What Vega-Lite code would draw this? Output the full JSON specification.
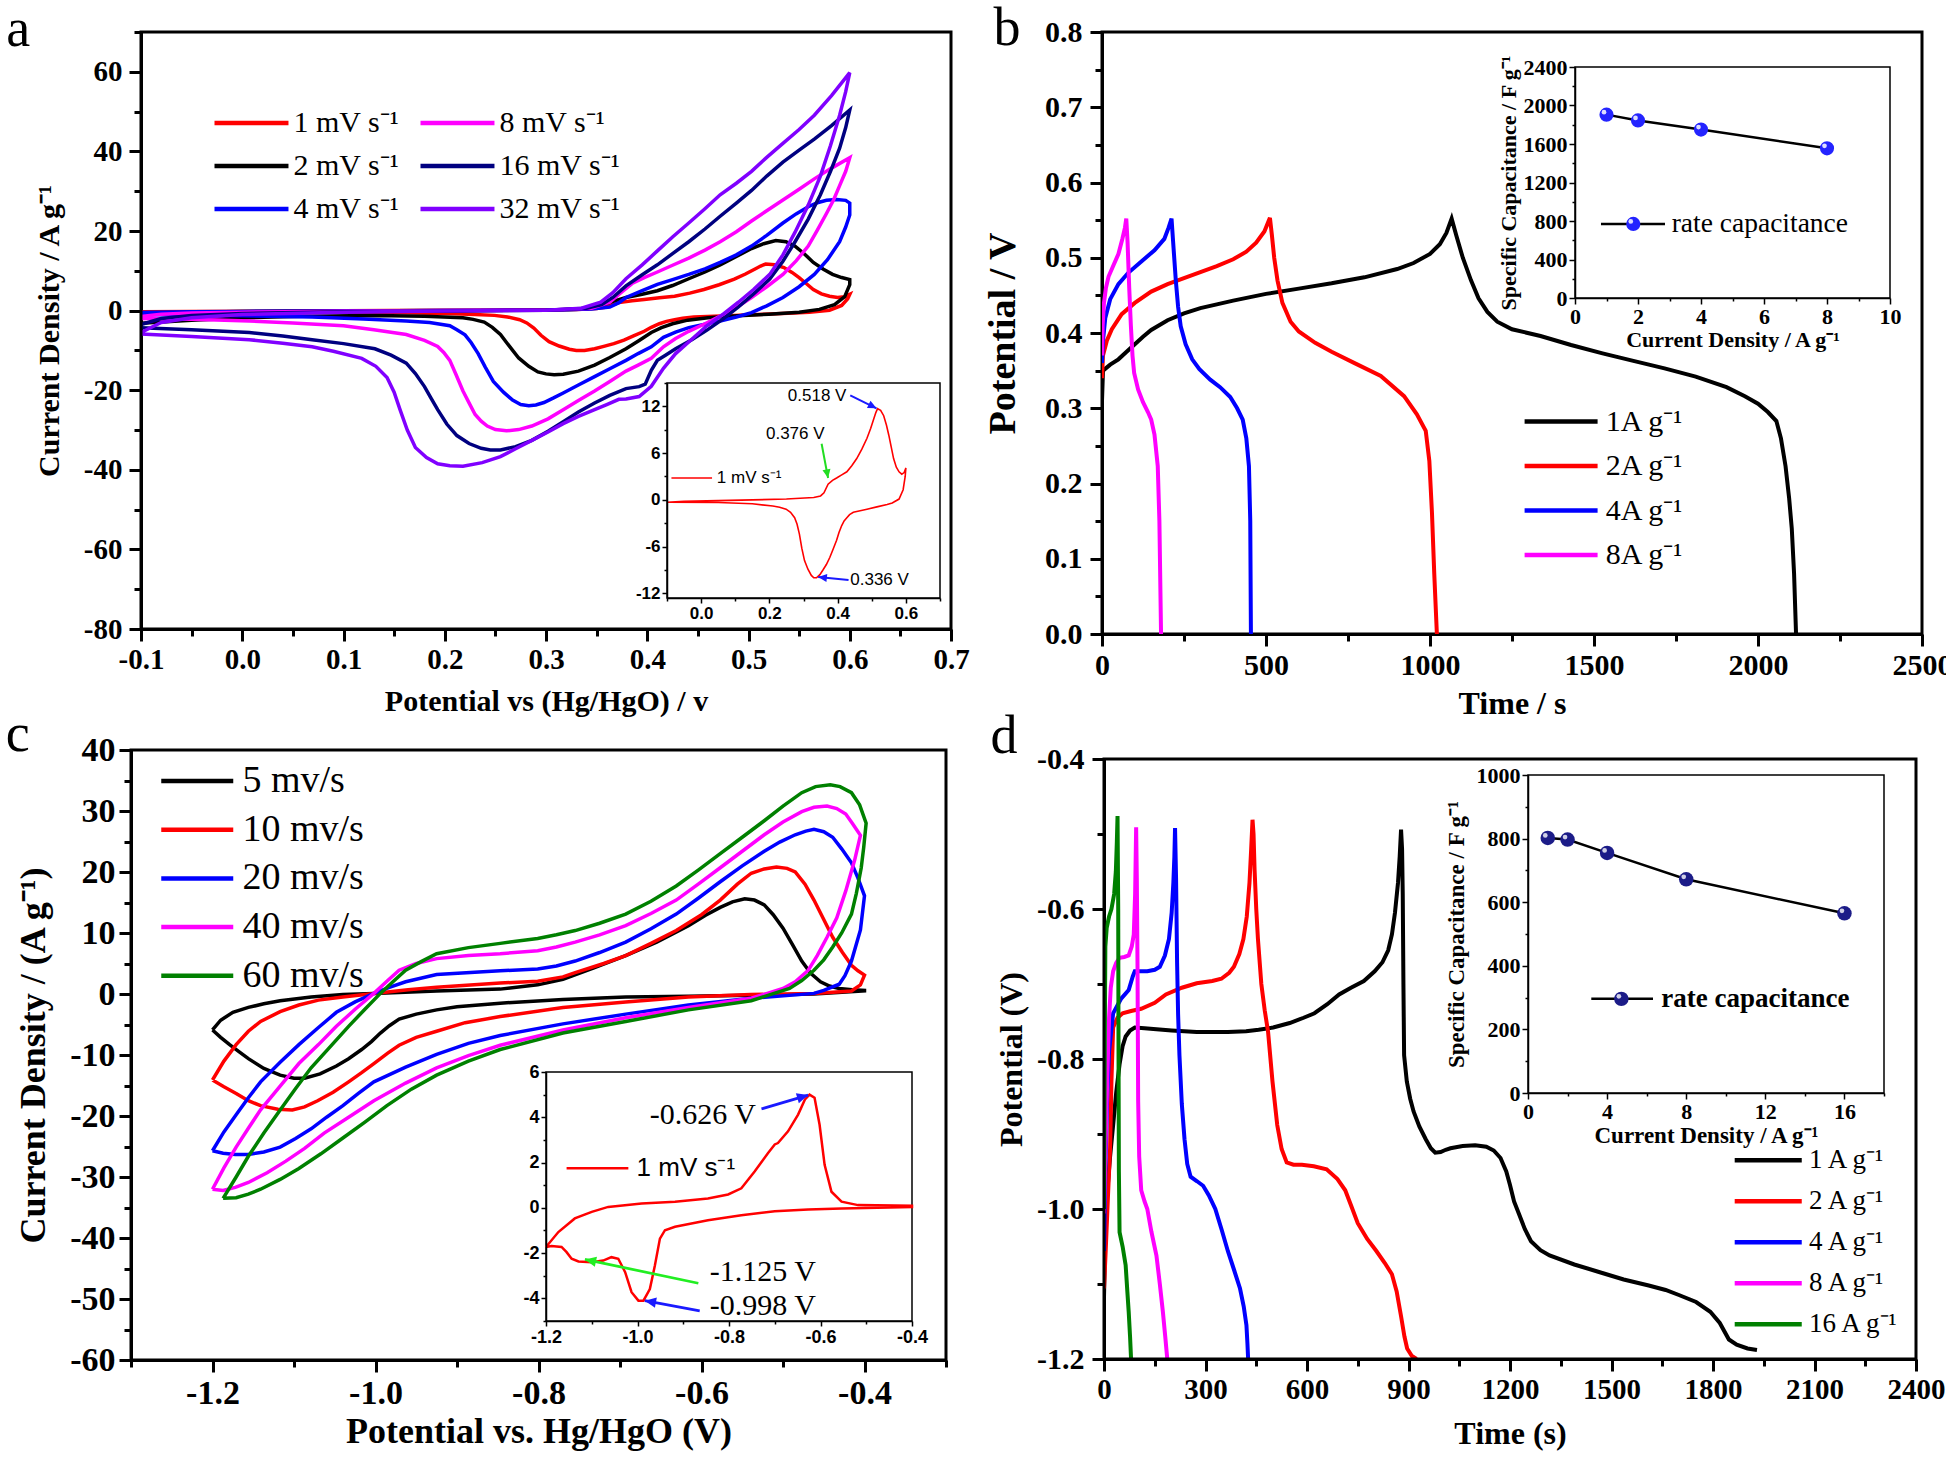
{
"$schema":"https://vega.github.io/schema/vega-lite/v6.json",
"background":"white",
"padding":{"left":4,"top":0,"right":0,"bottom":0},
"config":{
 "view":{"stroke":"black","strokeWidth":3},
 "axis":{"grid":false,"labelOverlap":false,"labelFlush":false,"labelBound":false,"domainColor":"black","tickColor":"black","labelColor":"black","titleColor":"black"},
 "title":{"anchor":"start","frame":"bounds","font":"Liberation Serif","fontSize":54,"fontWeight":"normal","baseline":"alphabetic","color":"black"},
 "legend":{"orient":"none","symbolType":"M0,0L8,0","padding":0,"labelColor":"black","labelFont":"Liberation Serif","labelLimit":400,"symbolOpacity":1}
},
"datasets":{
"A":[
{"s":"1","x":-0.1,"y":-0.3},{"s":"1","x":-0.05,"y":-0.2},{"s":"1","x":0.05,"y":-0.1},{"s":"1","x":0.15,"y":0},{"s":"1","x":0.25,"y":0.1},{"s":"1","x":0.33,"y":0.3},{"s":"1","x":0.35,"y":0.5},{"s":"1","x":0.36,"y":0.9},{"s":"1","x":0.372,"y":2.0},{"s":"1","x":0.385,"y":2.5},{"s":"1","x":0.397,"y":2.8},{"s":"1","x":0.412,"y":3.2},{"s":"1","x":0.427,"y":3.6},{"s":"1","x":0.442,"y":4.4},{"s":"1","x":0.456,"y":5.3},{"s":"1","x":0.471,"y":6.5},{"s":"1","x":0.486,"y":7.9},{"s":"1","x":0.497,"y":9.2},{"s":"1","x":0.506,"y":10.4},{"s":"1","x":0.512,"y":11.2},{"s":"1","x":0.517,"y":11.7},{"s":"1","x":0.526,"y":11.5},{"s":"1","x":0.535,"y":10.8},{"s":"1","x":0.543,"y":9.6},{"s":"1","x":0.55,"y":8.3},{"s":"1","x":0.557,"y":6.8},{"s":"1","x":0.564,"y":5.3},{"s":"1","x":0.572,"y":4.2},{"s":"1","x":0.58,"y":3.6},{"s":"1","x":0.588,"y":3.3},{"s":"1","x":0.595,"y":3.5},{"s":"1","x":0.6,"y":4.1},{"s":"1","x":0.598,"y":3.0},{"s":"1","x":0.592,"y":1.3},{"s":"1","x":0.58,"y":0.1},{"s":"1","x":0.56,"y":-0.4},{"s":"1","x":0.545,"y":-0.6},{"s":"1","x":0.515,"y":-0.9},{"s":"1","x":0.486,"y":-1.2},{"s":"1","x":0.466,"y":-1.4},{"s":"1","x":0.446,"y":-1.6},{"s":"1","x":0.435,"y":-1.9},{"s":"1","x":0.427,"y":-2.3},{"s":"1","x":0.419,"y":-2.7},{"s":"1","x":0.412,"y":-3.3},{"s":"1","x":0.404,"y":-4.2},{"s":"1","x":0.397,"y":-5.2},{"s":"1","x":0.387,"y":-6.3},{"s":"1","x":0.377,"y":-7.4},{"s":"1","x":0.367,"y":-8.3},{"s":"1","x":0.357,"y":-9.0},{"s":"1","x":0.348,"y":-9.6},{"s":"1","x":0.338,"y":-10.0},{"s":"1","x":0.33,"y":-10.0},{"s":"1","x":0.323,"y":-9.7},{"s":"1","x":0.313,"y":-8.9},{"s":"1","x":0.303,"y":-7.8},{"s":"1","x":0.295,"y":-6.2},{"s":"1","x":0.288,"y":-4.4},{"s":"1","x":0.281,"y":-3.1},{"s":"1","x":0.274,"y":-2.3},{"s":"1","x":0.262,"y":-1.6},{"s":"1","x":0.249,"y":-1.2},{"s":"1","x":0.23,"y":-0.95},{"s":"1","x":0.21,"y":-0.8},{"s":"1","x":0.15,"y":-0.5},{"s":"1","x":0.05,"y":-0.35},{"s":"1","x":-0.1,"y":-0.3},
{"s":"2","x":-0.1,"y":-1.2},{"s":"2","x":-0.08,"y":-0.7},{"s":"2","x":-0.05,"y":-0.4},{"s":"2","x":0.0,"y":-0.25},{"s":"2","x":0.1,"y":-0.1},{"s":"2","x":0.2,"y":0.0},{"s":"2","x":0.3,"y":0.1},{"s":"2","x":0.34,"y":0.4},{"s":"2","x":0.355,"y":1.3},{"s":"2","x":0.367,"y":2.4},{"s":"2","x":0.379,"y":3.3},{"s":"2","x":0.395,"y":4.1},{"s":"2","x":0.41,"y":5.0},{"s":"2","x":0.425,"y":6.3},{"s":"2","x":0.441,"y":8.0},{"s":"2","x":0.457,"y":9.7},{"s":"2","x":0.472,"y":11.5},{"s":"2","x":0.488,"y":13.6},{"s":"2","x":0.503,"y":15.6},{"s":"2","x":0.515,"y":16.8},{"s":"2","x":0.527,"y":17.6},{"s":"2","x":0.537,"y":17.3},{"s":"2","x":0.546,"y":16.2},{"s":"2","x":0.555,"y":14.3},{"s":"2","x":0.564,"y":12.1},{"s":"2","x":0.574,"y":10.4},{"s":"2","x":0.583,"y":9.1},{"s":"2","x":0.592,"y":8.3},{"s":"2","x":0.6,"y":7.8},{"s":"2","x":0.6,"y":6.5},{"s":"2","x":0.595,"y":3.5},{"s":"2","x":0.585,"y":1.5},{"s":"2","x":0.57,"y":0.3},{"s":"2","x":0.55,"y":-0.4},{"s":"2","x":0.52,"y":-0.9},{"s":"2","x":0.49,"y":-1.3},{"s":"2","x":0.46,"y":-1.8},{"s":"2","x":0.44,"y":-2.4},{"s":"2","x":0.425,"y":-3.3},{"s":"2","x":0.414,"y":-4.3},{"s":"2","x":0.404,"y":-5.5},{"s":"2","x":0.392,"y":-7.5},{"s":"2","x":0.379,"y":-9.6},{"s":"2","x":0.363,"y":-11.8},{"s":"2","x":0.348,"y":-13.7},{"s":"2","x":0.332,"y":-15.2},{"s":"2","x":0.317,"y":-16.0},{"s":"2","x":0.308,"y":-16.1},{"s":"2","x":0.3,"y":-15.9},{"s":"2","x":0.292,"y":-15.4},{"s":"2","x":0.283,"y":-14.0},{"s":"2","x":0.273,"y":-11.9},{"s":"2","x":0.264,"y":-9.0},{"s":"2","x":0.255,"y":-6.0},{"s":"2","x":0.247,"y":-4.2},{"s":"2","x":0.239,"y":-2.9},{"s":"2","x":0.228,"y":-2.2},{"s":"2","x":0.218,"y":-1.8},{"s":"2","x":0.18,"y":-1.4},{"s":"2","x":0.131,"y":-1.2},{"s":"2","x":0.06,"y":-1.4},{"s":"2","x":0.006,"y":-1.8},{"s":"2","x":-0.05,"y":-2.4},{"s":"2","x":-0.1,"y":-3.2},
{"s":"4","x":-0.1,"y":-0.5},{"s":"4","x":-0.05,"y":-0.3},{"s":"4","x":0.0,"y":-0.2},{"s":"4","x":0.1,"y":-0.1},{"s":"4","x":0.2,"y":0.0},{"s":"4","x":0.3,"y":0.1},{"s":"4","x":0.345,"y":0.4},{"s":"4","x":0.363,"y":0.9},{"s":"4","x":0.372,"y":2.0},{"s":"4","x":0.379,"y":3.3},{"s":"4","x":0.395,"y":5.0},{"s":"4","x":0.41,"y":6.6},{"s":"4","x":0.425,"y":7.8},{"s":"4","x":0.441,"y":9.1},{"s":"4","x":0.457,"y":10.5},{"s":"4","x":0.472,"y":12.1},{"s":"4","x":0.488,"y":14.0},{"s":"4","x":0.503,"y":16.2},{"s":"4","x":0.518,"y":18.9},{"s":"4","x":0.534,"y":22.0},{"s":"4","x":0.547,"y":24.3},{"s":"4","x":0.559,"y":26.1},{"s":"4","x":0.568,"y":27.1},{"s":"4","x":0.577,"y":27.7},{"s":"4","x":0.587,"y":27.9},{"s":"4","x":0.596,"y":27.7},{"s":"4","x":0.6,"y":27.0},{"s":"4","x":0.6,"y":24.0},{"s":"4","x":0.596,"y":21.0},{"s":"4","x":0.59,"y":17.3},{"s":"4","x":0.578,"y":12.8},{"s":"4","x":0.565,"y":9.1},{"s":"4","x":0.55,"y":6.0},{"s":"4","x":0.534,"y":3.3},{"s":"4","x":0.518,"y":1.2},{"s":"4","x":0.503,"y":-0.5},{"s":"4","x":0.488,"y":-1.6},{"s":"4","x":0.472,"y":-2.6},{"s":"4","x":0.457,"y":-3.4},{"s":"4","x":0.441,"y":-4.3},{"s":"4","x":0.428,"y":-5.4},{"s":"4","x":0.416,"y":-6.7},{"s":"4","x":0.404,"y":-9.1},{"s":"4","x":0.391,"y":-10.8},{"s":"4","x":0.379,"y":-12.5},{"s":"4","x":0.363,"y":-14.6},{"s":"4","x":0.348,"y":-16.6},{"s":"4","x":0.332,"y":-18.7},{"s":"4","x":0.317,"y":-20.7},{"s":"4","x":0.307,"y":-22.0},{"s":"4","x":0.298,"y":-23.1},{"s":"4","x":0.29,"y":-23.7},{"s":"4","x":0.283,"y":-23.9},{"s":"4","x":0.275,"y":-23.6},{"s":"4","x":0.267,"y":-22.5},{"s":"4","x":0.258,"y":-20.5},{"s":"4","x":0.248,"y":-17.8},{"s":"4","x":0.24,"y":-14.2},{"s":"4","x":0.233,"y":-10.8},{"s":"4","x":0.226,"y":-8.0},{"s":"4","x":0.22,"y":-6.1},{"s":"4","x":0.212,"y":-4.8},{"s":"4","x":0.205,"y":-3.8},{"s":"4","x":0.185,"y":-3.0},{"s":"4","x":0.162,"y":-2.6},{"s":"4","x":0.12,"y":-2.1},{"s":"4","x":0.069,"y":-1.6},{"s":"4","x":0.0,"y":-1.3},{"s":"4","x":-0.1,"y":-1.0},
{"s":"8","x":-0.1,"y":-1.5},{"s":"8","x":-0.08,"y":-0.9},{"s":"8","x":-0.05,"y":-0.6},{"s":"8","x":0.0,"y":-0.4},{"s":"8","x":0.1,"y":-0.15},{"s":"8","x":0.2,"y":0.0},{"s":"8","x":0.3,"y":0.1},{"s":"8","x":0.345,"y":0.6},{"s":"8","x":0.363,"y":2.1},{"s":"8","x":0.374,"y":4.5},{"s":"8","x":0.385,"y":6.8},{"s":"8","x":0.397,"y":8.3},{"s":"8","x":0.41,"y":9.7},{"s":"8","x":0.425,"y":11.4},{"s":"8","x":0.441,"y":13.2},{"s":"8","x":0.457,"y":15.2},{"s":"8","x":0.472,"y":17.3},{"s":"8","x":0.488,"y":19.8},{"s":"8","x":0.503,"y":22.5},{"s":"8","x":0.518,"y":25.1},{"s":"8","x":0.534,"y":27.8},{"s":"8","x":0.55,"y":30.5},{"s":"8","x":0.565,"y":33.1},{"s":"8","x":0.582,"y":35.8},{"s":"8","x":0.6,"y":38.4},{"s":"8","x":0.596,"y":35.0},{"s":"8","x":0.59,"y":31.4},{"s":"8","x":0.584,"y":27.8},{"s":"8","x":0.577,"y":24.4},{"s":"8","x":0.568,"y":20.2},{"s":"8","x":0.559,"y":16.2},{"s":"8","x":0.547,"y":12.5},{"s":"8","x":0.534,"y":9.1},{"s":"8","x":0.518,"y":6.0},{"s":"8","x":0.503,"y":3.3},{"s":"8","x":0.488,"y":0.8},{"s":"8","x":0.472,"y":-1.4},{"s":"8","x":0.457,"y":-3.3},{"s":"8","x":0.441,"y":-5.2},{"s":"8","x":0.428,"y":-7.0},{"s":"8","x":0.416,"y":-9.1},{"s":"8","x":0.404,"y":-12.0},{"s":"8","x":0.391,"y":-13.7},{"s":"8","x":0.379,"y":-15.2},{"s":"8","x":0.363,"y":-17.8},{"s":"8","x":0.348,"y":-20.2},{"s":"8","x":0.332,"y":-22.6},{"s":"8","x":0.317,"y":-24.9},{"s":"8","x":0.302,"y":-27.2},{"s":"8","x":0.286,"y":-29.0},{"s":"8","x":0.273,"y":-29.9},{"s":"8","x":0.261,"y":-30.2},{"s":"8","x":0.25,"y":-29.9},{"s":"8","x":0.242,"y":-29.0},{"s":"8","x":0.236,"y":-27.8},{"s":"8","x":0.23,"y":-26.1},{"s":"8","x":0.224,"y":-23.2},{"s":"8","x":0.218,"y":-20.2},{"s":"8","x":0.211,"y":-16.0},{"s":"8","x":0.205,"y":-12.5},{"s":"8","x":0.199,"y":-10.5},{"s":"8","x":0.193,"y":-9.0},{"s":"8","x":0.18,"y":-7.5},{"s":"8","x":0.162,"y":-6.0},{"s":"8","x":0.13,"y":-4.8},{"s":"8","x":0.1,"y":-3.8},{"s":"8","x":0.05,"y":-3.1},{"s":"8","x":0.007,"y":-2.6},{"s":"8","x":-0.05,"y":-2.2},{"s":"8","x":-0.1,"y":-2.0},
{"s":"16","x":-0.1,"y":-3.5},{"s":"16","x":-0.08,"y":-2.0},{"s":"16","x":-0.05,"y":-1.2},{"s":"16","x":0.0,"y":-0.7},{"s":"16","x":0.1,"y":-0.3},{"s":"16","x":0.2,"y":-0.1},{"s":"16","x":0.3,"y":0.1},{"s":"16","x":0.34,"y":0.6},{"s":"16","x":0.355,"y":1.5},{"s":"16","x":0.366,"y":3.3},{"s":"16","x":0.379,"y":6.2},{"s":"16","x":0.395,"y":9.0},{"s":"16","x":0.41,"y":11.5},{"s":"16","x":0.425,"y":14.3},{"s":"16","x":0.441,"y":17.3},{"s":"16","x":0.457,"y":20.5},{"s":"16","x":0.472,"y":23.7},{"s":"16","x":0.488,"y":27.0},{"s":"16","x":0.503,"y":30.2},{"s":"16","x":0.518,"y":33.8},{"s":"16","x":0.534,"y":37.3},{"s":"16","x":0.55,"y":40.3},{"s":"16","x":0.565,"y":43.1},{"s":"16","x":0.582,"y":46.5},{"s":"16","x":0.6,"y":50.4},{"s":"16","x":0.596,"y":46.0},{"s":"16","x":0.59,"y":40.8},{"s":"16","x":0.581,"y":35.0},{"s":"16","x":0.571,"y":29.1},{"s":"16","x":0.559,"y":23.0},{"s":"16","x":0.546,"y":17.3},{"s":"16","x":0.534,"y":12.4},{"s":"16","x":0.521,"y":7.9},{"s":"16","x":0.505,"y":4.2},{"s":"16","x":0.49,"y":0.9},{"s":"16","x":0.475,"y":-2.1},{"s":"16","x":0.459,"y":-4.9},{"s":"16","x":0.444,"y":-7.3},{"s":"16","x":0.428,"y":-9.6},{"s":"16","x":0.418,"y":-11.2},{"s":"16","x":0.41,"y":-12.5},{"s":"16","x":0.404,"y":-15.0},{"s":"16","x":0.398,"y":-18.5},{"s":"16","x":0.392,"y":-19.1},{"s":"16","x":0.379,"y":-19.6},{"s":"16","x":0.363,"y":-21.3},{"s":"16","x":0.348,"y":-23.2},{"s":"16","x":0.332,"y":-25.5},{"s":"16","x":0.317,"y":-27.9},{"s":"16","x":0.302,"y":-30.3},{"s":"16","x":0.286,"y":-32.6},{"s":"16","x":0.27,"y":-34.2},{"s":"16","x":0.255,"y":-35.0},{"s":"16","x":0.245,"y":-35.0},{"s":"16","x":0.236,"y":-34.6},{"s":"16","x":0.224,"y":-33.4},{"s":"16","x":0.212,"y":-31.4},{"s":"16","x":0.202,"y":-28.5},{"s":"16","x":0.193,"y":-24.9},{"s":"16","x":0.186,"y":-21.8},{"s":"16","x":0.18,"y":-19.1},{"s":"16","x":0.171,"y":-15.8},{"s":"16","x":0.162,"y":-13.2},{"s":"16","x":0.147,"y":-11.2},{"s":"16","x":0.131,"y":-9.6},{"s":"16","x":0.1,"y":-8.3},{"s":"16","x":0.069,"y":-7.3},{"s":"16","x":0.04,"y":-6.4},{"s":"16","x":0.007,"y":-5.5},{"s":"16","x":-0.05,"y":-4.8},{"s":"16","x":-0.1,"y":-4.3},
{"s":"32","x":-0.1,"y":-5.5},{"s":"32","x":-0.08,"y":-3.0},{"s":"32","x":-0.05,"y":-1.8},{"s":"32","x":0.0,"y":-1.0},{"s":"32","x":0.1,"y":-0.4},{"s":"32","x":0.2,"y":-0.1},{"s":"32","x":0.3,"y":0.1},{"s":"32","x":0.335,"y":0.6},{"s":"32","x":0.354,"y":2.1},{"s":"32","x":0.366,"y":4.5},{"s":"32","x":0.379,"y":8.0},{"s":"32","x":0.395,"y":11.5},{"s":"32","x":0.41,"y":15.0},{"s":"32","x":0.425,"y":18.5},{"s":"32","x":0.441,"y":22.0},{"s":"32","x":0.457,"y":25.6},{"s":"32","x":0.472,"y":29.1},{"s":"32","x":0.488,"y":32.0},{"s":"32","x":0.503,"y":35.0},{"s":"32","x":0.518,"y":38.5},{"s":"32","x":0.534,"y":42.0},{"s":"32","x":0.55,"y":45.5},{"s":"32","x":0.565,"y":49.1},{"s":"32","x":0.582,"y":54.0},{"s":"32","x":0.6,"y":59.8},{"s":"32","x":0.596,"y":55.0},{"s":"32","x":0.59,"y":49.1},{"s":"32","x":0.581,"y":41.5},{"s":"32","x":0.571,"y":33.8},{"s":"32","x":0.559,"y":26.5},{"s":"32","x":0.546,"y":19.7},{"s":"32","x":0.534,"y":14.0},{"s":"32","x":0.521,"y":9.1},{"s":"32","x":0.505,"y":5.3},{"s":"32","x":0.49,"y":2.1},{"s":"32","x":0.475,"y":-0.9},{"s":"32","x":0.459,"y":-3.8},{"s":"32","x":0.444,"y":-7.2},{"s":"32","x":0.428,"y":-10.8},{"s":"32","x":0.416,"y":-14.5},{"s":"32","x":0.404,"y":-19.0},{"s":"32","x":0.392,"y":-21.6},{"s":"32","x":0.379,"y":-22.2},{"s":"32","x":0.372,"y":-22.3},{"s":"32","x":0.36,"y":-23.6},{"s":"32","x":0.348,"y":-24.9},{"s":"32","x":0.332,"y":-26.6},{"s":"32","x":0.317,"y":-28.4},{"s":"32","x":0.302,"y":-30.5},{"s":"32","x":0.286,"y":-32.6},{"s":"32","x":0.27,"y":-34.7},{"s":"32","x":0.255,"y":-36.7},{"s":"32","x":0.237,"y":-38.2},{"s":"32","x":0.218,"y":-39.1},{"s":"32","x":0.205,"y":-39.0},{"s":"32","x":0.193,"y":-38.5},{"s":"32","x":0.182,"y":-36.9},{"s":"32","x":0.171,"y":-34.4},{"s":"32","x":0.163,"y":-30.0},{"s":"32","x":0.156,"y":-25.0},{"s":"32","x":0.15,"y":-20.5},{"s":"32","x":0.143,"y":-16.8},{"s":"32","x":0.132,"y":-14.0},{"s":"32","x":0.118,"y":-12.0},{"s":"32","x":0.09,"y":-10.2},{"s":"32","x":0.069,"y":-9.1},{"s":"32","x":0.04,"y":-8.2},{"s":"32","x":0.007,"y":-7.3},{"s":"32","x":-0.05,"y":-6.5},{"s":"32","x":-0.1,"y":-5.9}
],
"AT":[{"t":"0.518 V","x":0.254,"y":13.35},{"t":"0.376 V","x":0.19,"y":8.5},{"t":"0.336 V","x":0.437,"y":-10.3},{"t":"1 mV s⁻¹","x":0.046,"y":2.8}],
"ARA":[{"id":"p1","x":0.514,"y":11.75,"x2":0.437,"y2":13.4},{"id":"p2","x":0.372,"y":2.8,"x2":0.353,"y2":7.2},{"id":"p3","x":0.343,"y":-9.9,"x2":0.432,"y2":-10.3}],
"B":[
{"s":"1","x":0,"y":0.31},{"s":"1","x":3,"y":0.35},{"s":"1","x":25,"y":0.358},{"s":"1","x":50,"y":0.365},{"s":"1","x":75,"y":0.375},{"s":"1","x":100,"y":0.385},{"s":"1","x":125,"y":0.395},{"s":"1","x":150,"y":0.404},{"s":"1","x":200,"y":0.417},{"s":"1","x":250,"y":0.426},{"s":"1","x":300,"y":0.433},{"s":"1","x":350,"y":0.438},{"s":"1","x":400,"y":0.443},{"s":"1","x":500,"y":0.452},{"s":"1","x":600,"y":0.459},{"s":"1","x":700,"y":0.466},{"s":"1","x":800,"y":0.474},{"s":"1","x":900,"y":0.485},{"s":"1","x":950,"y":0.493},{"s":"1","x":1000,"y":0.505},{"s":"1","x":1030,"y":0.518},{"s":"1","x":1050,"y":0.533},{"s":"1","x":1066,"y":0.552},{"s":"1","x":1080,"y":0.53},{"s":"1","x":1100,"y":0.5},{"s":"1","x":1125,"y":0.47},{"s":"1","x":1148,"y":0.446},{"s":"1","x":1175,"y":0.428},{"s":"1","x":1205,"y":0.415},{"s":"1","x":1250,"y":0.405},{"s":"1","x":1337,"y":0.396},{"s":"1","x":1430,"y":0.384},{"s":"1","x":1526,"y":0.373},{"s":"1","x":1620,"y":0.363},{"s":"1","x":1715,"y":0.353},{"s":"1","x":1810,"y":0.342},{"s":"1","x":1904,"y":0.328},{"s":"1","x":1960,"y":0.316},{"s":"1","x":2000,"y":0.306},{"s":"1","x":2030,"y":0.295},{"s":"1","x":2056,"y":0.283},{"s":"1","x":2070,"y":0.26},{"s":"1","x":2084,"y":0.223},{"s":"1","x":2095,"y":0.18},{"s":"1","x":2103,"y":0.14},{"s":"1","x":2110,"y":0.08},{"s":"1","x":2116,"y":0.0},
{"s":"2","x":0,"y":0.34},{"s":"2","x":3,"y":0.37},{"s":"2","x":15,"y":0.39},{"s":"2","x":30,"y":0.405},{"s":"2","x":60,"y":0.425},{"s":"2","x":100,"y":0.44},{"s":"2","x":150,"y":0.455},{"s":"2","x":200,"y":0.465},{"s":"2","x":250,"y":0.473},{"s":"2","x":300,"y":0.481},{"s":"2","x":350,"y":0.489},{"s":"2","x":400,"y":0.498},{"s":"2","x":440,"y":0.508},{"s":"2","x":470,"y":0.52},{"s":"2","x":495,"y":0.535},{"s":"2","x":512,"y":0.553},{"s":"2","x":518,"y":0.53},{"s":"2","x":525,"y":0.5},{"s":"2","x":535,"y":0.47},{"s":"2","x":550,"y":0.44},{"s":"2","x":575,"y":0.415},{"s":"2","x":600,"y":0.402},{"s":"2","x":650,"y":0.387},{"s":"2","x":700,"y":0.375},{"s":"2","x":770,"y":0.36},{"s":"2","x":850,"y":0.343},{"s":"2","x":921,"y":0.316},{"s":"2","x":960,"y":0.292},{"s":"2","x":987,"y":0.27},{"s":"2","x":998,"y":0.23},{"s":"2","x":1006,"y":0.161},{"s":"2","x":1013,"y":0.08},{"s":"2","x":1021,"y":0.0},
{"s":"4","x":0,"y":0.36},{"s":"4","x":3,"y":0.39},{"s":"4","x":10,"y":0.42},{"s":"4","x":25,"y":0.445},{"s":"4","x":50,"y":0.465},{"s":"4","x":80,"y":0.48},{"s":"4","x":120,"y":0.495},{"s":"4","x":160,"y":0.51},{"s":"4","x":190,"y":0.525},{"s":"4","x":203,"y":0.54},{"s":"4","x":212,"y":0.552},{"s":"4","x":217,"y":0.52},{"s":"4","x":225,"y":0.47},{"s":"4","x":232,"y":0.435},{"s":"4","x":240,"y":0.409},{"s":"4","x":255,"y":0.385},{"s":"4","x":275,"y":0.365},{"s":"4","x":297,"y":0.352},{"s":"4","x":330,"y":0.338},{"s":"4","x":360,"y":0.328},{"s":"4","x":391,"y":0.315},{"s":"4","x":412,"y":0.3},{"s":"4","x":429,"y":0.285},{"s":"4","x":440,"y":0.26},{"s":"4","x":448,"y":0.223},{"s":"4","x":452,"y":0.15},{"s":"4","x":454,"y":0.0},
{"s":"8","x":0,"y":0.37},{"s":"8","x":2,"y":0.41},{"s":"8","x":6,"y":0.44},{"s":"8","x":12,"y":0.46},{"s":"8","x":20,"y":0.475},{"s":"8","x":35,"y":0.49},{"s":"8","x":50,"y":0.505},{"s":"8","x":62,"y":0.525},{"s":"8","x":70,"y":0.54},{"s":"8","x":74,"y":0.552},{"s":"8","x":78,"y":0.52},{"s":"8","x":83,"y":0.46},{"s":"8","x":88,"y":0.41},{"s":"8","x":93,"y":0.37},{"s":"8","x":98,"y":0.347},{"s":"8","x":110,"y":0.325},{"s":"8","x":125,"y":0.308},{"s":"8","x":140,"y":0.295},{"s":"8","x":150,"y":0.285},{"s":"8","x":160,"y":0.265},{"s":"8","x":170,"y":0.223},{"s":"8","x":175,"y":0.15},{"s":"8","x":180,"y":0.0}
],
"BI":[{"x":1,"y":1905},{"x":2,"y":1845},{"x":4,"y":1750},{"x":8,"y":1555}],
"C":[
{"s":"5","x":-1.2,"y":-5.9},{"s":"5","x":-1.19,"y":-4.3},{"s":"5","x":-1.175,"y":-3.0},{"s":"5","x":-1.156,"y":-2.2},{"s":"5","x":-1.137,"y":-1.6},{"s":"5","x":-1.117,"y":-1.1},{"s":"5","x":-1.079,"y":-0.5},{"s":"5","x":-1.04,"y":-0.1},{"s":"5","x":-1.002,"y":0.1},{"s":"5","x":-0.925,"y":0.5},{"s":"5","x":-0.847,"y":0.8},{"s":"5","x":-0.801,"y":1.5},{"s":"5","x":-0.77,"y":2.4},{"s":"5","x":-0.732,"y":4.3},{"s":"5","x":-0.693,"y":6.3},{"s":"5","x":-0.655,"y":8.5},{"s":"5","x":-0.616,"y":11.2},{"s":"5","x":-0.595,"y":12.9},{"s":"5","x":-0.577,"y":14.2},{"s":"5","x":-0.562,"y":15.1},{"s":"5","x":-0.547,"y":15.6},{"s":"5","x":-0.535,"y":15.4},{"s":"5","x":-0.523,"y":14.6},{"s":"5","x":-0.512,"y":13.0},{"s":"5","x":-0.5,"y":10.8},{"s":"5","x":-0.488,"y":8.0},{"s":"5","x":-0.477,"y":5.4},{"s":"5","x":-0.466,"y":3.4},{"s":"5","x":-0.454,"y":2.0},{"s":"5","x":-0.443,"y":1.3},{"s":"5","x":-0.431,"y":0.9},{"s":"5","x":-0.415,"y":0.7},{"s":"5","x":-0.4,"y":0.6},{"s":"5","x":-0.4,"y":0.5},{"s":"5","x":-0.462,"y":0.0},{"s":"5","x":-0.539,"y":-0.2},{"s":"5","x":-0.616,"y":-0.35},{"s":"5","x":-0.693,"y":-0.5},{"s":"5","x":-0.77,"y":-0.9},{"s":"5","x":-0.847,"y":-1.5},{"s":"5","x":-0.9,"y":-2.1},{"s":"5","x":-0.925,"y":-2.6},{"s":"5","x":-0.95,"y":-3.3},{"s":"5","x":-0.971,"y":-4.1},{"s":"5","x":-0.983,"y":-5.2},{"s":"5","x":-0.994,"y":-6.4},{"s":"5","x":-1.005,"y":-7.8},{"s":"5","x":-1.017,"y":-9.1},{"s":"5","x":-1.033,"y":-10.6},{"s":"5","x":-1.048,"y":-11.8},{"s":"5","x":-1.068,"y":-13.1},{"s":"5","x":-1.087,"y":-13.8},{"s":"5","x":-1.1,"y":-13.8},{"s":"5","x":-1.117,"y":-13.3},{"s":"5","x":-1.137,"y":-12.2},{"s":"5","x":-1.156,"y":-10.6},{"s":"5","x":-1.168,"y":-9.4},{"s":"5","x":-1.179,"y":-8.3},{"s":"5","x":-1.19,"y":-7.1},{"s":"5","x":-1.2,"y":-5.9},
{"s":"10","x":-1.2,"y":-14.1},{"s":"10","x":-1.186,"y":-11.0},{"s":"10","x":-1.171,"y":-8.3},{"s":"10","x":-1.156,"y":-6.1},{"s":"10","x":-1.141,"y":-4.5},{"s":"10","x":-1.117,"y":-2.9},{"s":"10","x":-1.094,"y":-1.8},{"s":"10","x":-1.07,"y":-1.0},{"s":"10","x":-1.04,"y":-0.5},{"s":"10","x":-1.002,"y":0.1},{"s":"10","x":-0.96,"y":0.7},{"s":"10","x":-0.925,"y":1.1},{"s":"10","x":-0.847,"y":1.8},{"s":"10","x":-0.801,"y":2.1},{"s":"10","x":-0.77,"y":2.8},{"s":"10","x":-0.755,"y":3.5},{"s":"10","x":-0.72,"y":5.0},{"s":"10","x":-0.693,"y":6.3},{"s":"10","x":-0.662,"y":8.3},{"s":"10","x":-0.631,"y":10.4},{"s":"10","x":-0.6,"y":13.0},{"s":"10","x":-0.577,"y":15.4},{"s":"10","x":-0.556,"y":18.0},{"s":"10","x":-0.539,"y":19.8},{"s":"10","x":-0.523,"y":20.5},{"s":"10","x":-0.508,"y":20.8},{"s":"10","x":-0.495,"y":20.6},{"s":"10","x":-0.485,"y":20.0},{"s":"10","x":-0.473,"y":18.0},{"s":"10","x":-0.462,"y":15.4},{"s":"10","x":-0.45,"y":12.2},{"s":"10","x":-0.439,"y":9.3},{"s":"10","x":-0.427,"y":6.8},{"s":"10","x":-0.416,"y":4.7},{"s":"10","x":-0.408,"y":3.8},{"s":"10","x":-0.4,"y":3.1},{"s":"10","x":-0.405,"y":1.5},{"s":"10","x":-0.416,"y":0.5},{"s":"10","x":-0.462,"y":0.1},{"s":"10","x":-0.54,"y":-0.1},{"s":"10","x":-0.616,"y":-0.5},{"s":"10","x":-0.693,"y":-1.3},{"s":"10","x":-0.77,"y":-2.2},{"s":"10","x":-0.847,"y":-3.7},{"s":"10","x":-0.89,"y":-4.7},{"s":"10","x":-0.925,"y":-6.1},{"s":"10","x":-0.95,"y":-7.1},{"s":"10","x":-0.971,"y":-8.4},{"s":"10","x":-0.985,"y":-9.7},{"s":"10","x":-1.002,"y":-11.4},{"s":"10","x":-1.017,"y":-12.9},{"s":"10","x":-1.033,"y":-14.4},{"s":"10","x":-1.052,"y":-16.1},{"s":"10","x":-1.071,"y":-17.5},{"s":"10","x":-1.087,"y":-18.5},{"s":"10","x":-1.102,"y":-19.0},{"s":"10","x":-1.12,"y":-18.9},{"s":"10","x":-1.141,"y":-18.3},{"s":"10","x":-1.156,"y":-17.5},{"s":"10","x":-1.171,"y":-16.3},{"s":"10","x":-1.186,"y":-15.2},{"s":"10","x":-1.2,"y":-14.1},
{"s":"20","x":-1.2,"y":-25.7},{"s":"20","x":-1.186,"y":-22.6},{"s":"20","x":-1.171,"y":-19.8},{"s":"20","x":-1.156,"y":-17.0},{"s":"20","x":-1.141,"y":-14.4},{"s":"20","x":-1.117,"y":-11.2},{"s":"20","x":-1.094,"y":-8.3},{"s":"20","x":-1.07,"y":-5.5},{"s":"20","x":-1.048,"y":-3.0},{"s":"20","x":-1.025,"y":-1.3},{"s":"20","x":-1.002,"y":0.1},{"s":"20","x":-0.983,"y":1.1},{"s":"20","x":-0.963,"y":2.0},{"s":"20","x":-0.925,"y":3.2},{"s":"20","x":-0.847,"y":3.8},{"s":"20","x":-0.801,"y":4.1},{"s":"20","x":-0.778,"y":4.6},{"s":"20","x":-0.755,"y":5.4},{"s":"20","x":-0.725,"y":6.8},{"s":"20","x":-0.693,"y":8.5},{"s":"20","x":-0.662,"y":10.7},{"s":"20","x":-0.631,"y":13.1},{"s":"20","x":-0.604,"y":15.7},{"s":"20","x":-0.577,"y":18.4},{"s":"20","x":-0.55,"y":21.0},{"s":"20","x":-0.523,"y":23.4},{"s":"20","x":-0.504,"y":24.9},{"s":"20","x":-0.485,"y":26.1},{"s":"20","x":-0.472,"y":26.7},{"s":"20","x":-0.462,"y":27.0},{"s":"20","x":-0.45,"y":26.6},{"s":"20","x":-0.439,"y":25.7},{"s":"20","x":-0.428,"y":23.8},{"s":"20","x":-0.416,"y":21.5},{"s":"20","x":-0.408,"y":19.0},{"s":"20","x":-0.4,"y":16.1},{"s":"20","x":-0.405,"y":10.5},{"s":"20","x":-0.416,"y":5.4},{"s":"20","x":-0.424,"y":3.0},{"s":"20","x":-0.431,"y":1.6},{"s":"20","x":-0.45,"y":0.6},{"s":"20","x":-0.462,"y":0.1},{"s":"20","x":-0.539,"y":-0.7},{"s":"20","x":-0.616,"y":-1.8},{"s":"20","x":-0.693,"y":-3.3},{"s":"20","x":-0.77,"y":-4.9},{"s":"20","x":-0.847,"y":-6.8},{"s":"20","x":-0.886,"y":-8.1},{"s":"20","x":-0.925,"y":-9.9},{"s":"20","x":-0.963,"y":-12.0},{"s":"20","x":-1.002,"y":-14.4},{"s":"20","x":-1.021,"y":-16.3},{"s":"20","x":-1.04,"y":-18.3},{"s":"20","x":-1.06,"y":-20.2},{"s":"20","x":-1.079,"y":-22.1},{"s":"20","x":-1.098,"y":-23.7},{"s":"20","x":-1.117,"y":-25.1},{"s":"20","x":-1.137,"y":-25.9},{"s":"20","x":-1.156,"y":-26.3},{"s":"20","x":-1.172,"y":-26.3},{"s":"20","x":-1.187,"y":-26.1},{"s":"20","x":-1.2,"y":-25.7},
{"s":"40","x":-1.2,"y":-32.0},{"s":"40","x":-1.186,"y":-28.5},{"s":"40","x":-1.171,"y":-25.1},{"s":"40","x":-1.156,"y":-22.0},{"s":"40","x":-1.141,"y":-19.0},{"s":"40","x":-1.117,"y":-15.1},{"s":"40","x":-1.094,"y":-11.4},{"s":"40","x":-1.07,"y":-8.3},{"s":"40","x":-1.048,"y":-5.3},{"s":"40","x":-1.025,"y":-2.5},{"s":"40","x":-1.002,"y":0.1},{"s":"40","x":-0.985,"y":2.2},{"s":"40","x":-0.971,"y":3.9},{"s":"40","x":-0.95,"y":5.0},{"s":"40","x":-0.925,"y":5.8},{"s":"40","x":-0.886,"y":6.3},{"s":"40","x":-0.847,"y":6.6},{"s":"40","x":-0.801,"y":7.1},{"s":"40","x":-0.778,"y":7.7},{"s":"40","x":-0.755,"y":8.5},{"s":"40","x":-0.725,"y":9.7},{"s":"40","x":-0.693,"y":11.2},{"s":"40","x":-0.662,"y":13.2},{"s":"40","x":-0.631,"y":15.4},{"s":"40","x":-0.604,"y":18.0},{"s":"40","x":-0.577,"y":20.7},{"s":"40","x":-0.55,"y":23.4},{"s":"40","x":-0.523,"y":26.1},{"s":"40","x":-0.5,"y":28.2},{"s":"40","x":-0.477,"y":29.9},{"s":"40","x":-0.462,"y":30.6},{"s":"40","x":-0.446,"y":30.8},{"s":"40","x":-0.434,"y":30.4},{"s":"40","x":-0.423,"y":29.5},{"s":"40","x":-0.415,"y":28.0},{"s":"40","x":-0.405,"y":26.0},{"s":"40","x":-0.412,"y":22.0},{"s":"40","x":-0.423,"y":16.9},{"s":"40","x":-0.434,"y":12.5},{"s":"40","x":-0.446,"y":9.3},{"s":"40","x":-0.458,"y":6.3},{"s":"40","x":-0.469,"y":3.9},{"s":"40","x":-0.485,"y":2.0},{"s":"40","x":-0.5,"y":0.9},{"s":"40","x":-0.539,"y":-0.7},{"s":"40","x":-0.616,"y":-2.2},{"s":"40","x":-0.693,"y":-3.9},{"s":"40","x":-0.77,"y":-5.9},{"s":"40","x":-0.847,"y":-8.4},{"s":"40","x":-0.886,"y":-10.1},{"s":"40","x":-0.925,"y":-12.1},{"s":"40","x":-0.963,"y":-14.6},{"s":"40","x":-1.002,"y":-17.5},{"s":"40","x":-1.033,"y":-20.2},{"s":"40","x":-1.063,"y":-22.8},{"s":"40","x":-1.087,"y":-25.3},{"s":"40","x":-1.11,"y":-27.4},{"s":"40","x":-1.133,"y":-29.3},{"s":"40","x":-1.156,"y":-30.9},{"s":"40","x":-1.172,"y":-31.7},{"s":"40","x":-1.187,"y":-32.2},{"s":"40","x":-1.2,"y":-32.0},
{"s":"60","x":-1.187,"y":-33.5},{"s":"60","x":-1.171,"y":-30.0},{"s":"60","x":-1.156,"y":-26.6},{"s":"60","x":-1.137,"y":-22.8},{"s":"60","x":-1.117,"y":-19.0},{"s":"60","x":-1.098,"y":-15.5},{"s":"60","x":-1.079,"y":-12.1},{"s":"60","x":-1.056,"y":-8.7},{"s":"60","x":-1.033,"y":-5.3},{"s":"60","x":-1.013,"y":-2.5},{"s":"60","x":-0.994,"y":0.1},{"s":"60","x":-0.978,"y":2.1},{"s":"60","x":-0.963,"y":3.9},{"s":"60","x":-0.944,"y":5.3},{"s":"60","x":-0.925,"y":6.6},{"s":"60","x":-0.886,"y":7.6},{"s":"60","x":-0.847,"y":8.3},{"s":"60","x":-0.801,"y":9.1},{"s":"60","x":-0.778,"y":9.7},{"s":"60","x":-0.755,"y":10.4},{"s":"60","x":-0.725,"y":11.6},{"s":"60","x":-0.693,"y":13.1},{"s":"60","x":-0.662,"y":15.2},{"s":"60","x":-0.631,"y":17.7},{"s":"60","x":-0.604,"y":20.3},{"s":"60","x":-0.577,"y":23.0},{"s":"60","x":-0.55,"y":25.7},{"s":"60","x":-0.523,"y":28.4},{"s":"60","x":-0.5,"y":30.8},{"s":"60","x":-0.477,"y":33.0},{"s":"60","x":-0.46,"y":34.0},{"s":"60","x":-0.442,"y":34.3},{"s":"60","x":-0.43,"y":34.0},{"s":"60","x":-0.416,"y":33.0},{"s":"60","x":-0.406,"y":31.0},{"s":"60","x":-0.398,"y":28.0},{"s":"60","x":-0.401,"y":24.0},{"s":"60","x":-0.404,"y":20.7},{"s":"60","x":-0.41,"y":16.5},{"s":"60","x":-0.416,"y":13.1},{"s":"60","x":-0.428,"y":10.0},{"s":"60","x":-0.439,"y":7.7},{"s":"60","x":-0.45,"y":5.6},{"s":"60","x":-0.462,"y":3.9},{"s":"60","x":-0.477,"y":2.2},{"s":"60","x":-0.492,"y":0.9},{"s":"60","x":-0.539,"y":-1.1},{"s":"60","x":-0.616,"y":-2.6},{"s":"60","x":-0.693,"y":-4.5},{"s":"60","x":-0.77,"y":-6.4},{"s":"60","x":-0.847,"y":-9.1},{"s":"60","x":-0.886,"y":-11.0},{"s":"60","x":-0.925,"y":-13.3},{"s":"60","x":-0.956,"y":-15.6},{"s":"60","x":-0.986,"y":-18.3},{"s":"60","x":-1.013,"y":-21.0},{"s":"60","x":-1.04,"y":-23.6},{"s":"60","x":-1.067,"y":-26.2},{"s":"60","x":-1.094,"y":-28.6},{"s":"60","x":-1.117,"y":-30.4},{"s":"60","x":-1.141,"y":-32.0},{"s":"60","x":-1.156,"y":-32.8},{"s":"60","x":-1.171,"y":-33.4},{"s":"60","x":-1.187,"y":-33.5}
],
"CI":[{"x":-1.2,"y":-1.73},{"x":-1.173,"y":-1.07},{"x":-1.137,"y":-0.47},{"x":-1.1,"y":-0.18},{"x":-1.064,"y":0.04},{"x":-0.991,"y":0.19},{"x":-0.918,"y":0.27},{"x":-0.846,"y":0.41},{"x":-0.802,"y":0.59},{"x":-0.773,"y":0.86},{"x":-0.744,"y":1.6},{"x":-0.715,"y":2.41},{"x":-0.7,"y":2.8},{"x":-0.693,"y":2.86},{"x":-0.671,"y":3.38},{"x":-0.649,"y":4.12},{"x":-0.634,"y":4.79},{"x":-0.624,"y":5.0},{"x":-0.613,"y":4.86},{"x":-0.602,"y":3.67},{"x":-0.591,"y":1.9},{"x":-0.576,"y":0.71},{"x":-0.554,"y":0.27},{"x":-0.518,"y":0.12},{"x":-0.4,"y":0.09},{"x":-0.4,"y":0.04},{"x":-0.554,"y":-0.03},{"x":-0.627,"y":-0.07},{"x":-0.7,"y":-0.15},{"x":-0.773,"y":-0.33},{"x":-0.846,"y":-0.55},{"x":-0.918,"y":-0.84},{"x":-0.94,"y":-0.99},{"x":-0.951,"y":-1.36},{"x":-0.962,"y":-2.55},{"x":-0.973,"y":-3.59},{"x":-0.987,"y":-4.1},{"x":-0.998,"y":-4.1},{"x":-1.013,"y":-3.73},{"x":-1.027,"y":-2.84},{"x":-1.042,"y":-2.25},{"x":-1.057,"y":-2.18},{"x":-1.075,"y":-2.33},{"x":-1.1,"y":-2.4},{"x":-1.129,"y":-2.37},{"x":-1.144,"y":-2.25},{"x":-1.155,"y":-1.96},{"x":-1.166,"y":-1.73},{"x":-1.188,"y":-1.69},{"x":-1.2,"y":-1.73}],
"CT":[{"t":"-0.626 V","x":-0.973,"y":4.12},{"t":"-1.125 V","x":-0.842,"y":-2.84},{"t":"-0.998 V","x":-0.842,"y":-4.33}],
"ARC":[{"id":"q1","x":-0.627,"y":4.98,"x2":-0.729,"y2":4.37},{"id":"q2","x":-1.115,"y":-2.28,"x2":-0.867,"y2":-3.33},{"id":"q3","x":-0.984,"y":-4.1,"x2":-0.864,"y2":-4.55}],
"D":[
{"s":"1","x":0,"y":-1.118},{"s":"1","x":3,"y":-1.05},{"s":"1","x":9,"y":-0.981},{"s":"1","x":18,"y":-0.93},{"s":"1","x":27,"y":-0.888},{"s":"1","x":36,"y":-0.845},{"s":"1","x":46,"y":-0.807},{"s":"1","x":55,"y":-0.783},{"s":"1","x":64,"y":-0.77},{"s":"1","x":77,"y":-0.762},{"s":"1","x":91,"y":-0.758},{"s":"1","x":120,"y":-0.759},{"s":"1","x":146,"y":-0.76},{"s":"1","x":200,"y":-0.762},{"s":"1","x":274,"y":-0.764},{"s":"1","x":366,"y":-0.764},{"s":"1","x":420,"y":-0.763},{"s":"1","x":457,"y":-0.761},{"s":"1","x":500,"y":-0.758},{"s":"1","x":549,"y":-0.752},{"s":"1","x":590,"y":-0.745},{"s":"1","x":622,"y":-0.739},{"s":"1","x":660,"y":-0.727},{"s":"1","x":695,"y":-0.714},{"s":"1","x":730,"y":-0.705},{"s":"1","x":768,"y":-0.696},{"s":"1","x":800,"y":-0.683},{"s":"1","x":823,"y":-0.671},{"s":"1","x":840,"y":-0.655},{"s":"1","x":851,"y":-0.634},{"s":"1","x":860,"y":-0.605},{"s":"1","x":869,"y":-0.565},{"s":"1","x":874,"y":-0.53},{"s":"1","x":878,"y":-0.494},{"s":"1","x":881,"y":-0.52},{"s":"1","x":883,"y":-0.58},{"s":"1","x":885,"y":-0.7},{"s":"1","x":887,"y":-0.795},{"s":"1","x":895,"y":-0.83},{"s":"1","x":905,"y":-0.853},{"s":"1","x":915,"y":-0.87},{"s":"1","x":932,"y":-0.89},{"s":"1","x":951,"y":-0.907},{"s":"1","x":966,"y":-0.919},{"s":"1","x":979,"y":-0.925},{"s":"1","x":995,"y":-0.924},{"s":"1","x":1010,"y":-0.921},{"s":"1","x":1024,"y":-0.919},{"s":"1","x":1060,"y":-0.916},{"s":"1","x":1097,"y":-0.915},{"s":"1","x":1130,"y":-0.917},{"s":"1","x":1152,"y":-0.922},{"s":"1","x":1172,"y":-0.932},{"s":"1","x":1189,"y":-0.95},{"s":"1","x":1200,"y":-0.968},{"s":"1","x":1212,"y":-0.99},{"s":"1","x":1226,"y":-1.006},{"s":"1","x":1244,"y":-1.027},{"s":"1","x":1262,"y":-1.043},{"s":"1","x":1290,"y":-1.055},{"s":"1","x":1317,"y":-1.062},{"s":"1","x":1390,"y":-1.074},{"s":"1","x":1463,"y":-1.084},{"s":"1","x":1536,"y":-1.094},{"s":"1","x":1610,"y":-1.102},{"s":"1","x":1660,"y":-1.108},{"s":"1","x":1701,"y":-1.115},{"s":"1","x":1750,"y":-1.124},{"s":"1","x":1792,"y":-1.137},{"s":"1","x":1820,"y":-1.152},{"s":"1","x":1847,"y":-1.174},{"s":"1","x":1870,"y":-1.181},{"s":"1","x":1902,"y":-1.186},{"s":"1","x":1930,"y":-1.188},
{"s":"2","x":0,"y":-1.106},{"s":"2","x":5,"y":-1.056},{"s":"2","x":12,"y":-0.98},{"s":"2","x":18,"y":-0.919},{"s":"2","x":22,"y":-0.83},{"s":"2","x":27,"y":-0.758},{"s":"2","x":40,"y":-0.745},{"s":"2","x":55,"y":-0.739},{"s":"2","x":80,"y":-0.736},{"s":"2","x":110,"y":-0.733},{"s":"2","x":150,"y":-0.725},{"s":"2","x":183,"y":-0.714},{"s":"2","x":230,"y":-0.705},{"s":"2","x":274,"y":-0.699},{"s":"2","x":320,"y":-0.696},{"s":"2","x":347,"y":-0.693},{"s":"2","x":370,"y":-0.685},{"s":"2","x":384,"y":-0.677},{"s":"2","x":400,"y":-0.66},{"s":"2","x":412,"y":-0.64},{"s":"2","x":422,"y":-0.61},{"s":"2","x":430,"y":-0.565},{"s":"2","x":435,"y":-0.52},{"s":"2","x":439,"y":-0.481},{"s":"2","x":442,"y":-0.5},{"s":"2","x":445,"y":-0.547},{"s":"2","x":450,"y":-0.6},{"s":"2","x":455,"y":-0.64},{"s":"2","x":465,"y":-0.7},{"s":"2","x":475,"y":-0.735},{"s":"2","x":485,"y":-0.764},{"s":"2","x":498,"y":-0.83},{"s":"2","x":512,"y":-0.888},{"s":"2","x":525,"y":-0.92},{"s":"2","x":540,"y":-0.938},{"s":"2","x":560,"y":-0.941},{"s":"2","x":585,"y":-0.941},{"s":"2","x":620,"y":-0.943},{"s":"2","x":658,"y":-0.947},{"s":"2","x":690,"y":-0.96},{"s":"2","x":713,"y":-0.975},{"s":"2","x":730,"y":-0.995},{"s":"2","x":750,"y":-1.019},{"s":"2","x":778,"y":-1.04},{"s":"2","x":805,"y":-1.056},{"s":"2","x":830,"y":-1.072},{"s":"2","x":851,"y":-1.087},{"s":"2","x":865,"y":-1.11},{"s":"2","x":878,"y":-1.143},{"s":"2","x":888,"y":-1.17},{"s":"2","x":896,"y":-1.186},{"s":"2","x":910,"y":-1.196},{"s":"2","x":924,"y":-1.2},
{"s":"4","x":0,"y":-1.056},{"s":"4","x":4,"y":-0.95},{"s":"4","x":9,"y":-0.857},{"s":"4","x":15,"y":-0.79},{"s":"4","x":27,"y":-0.739},{"s":"4","x":50,"y":-0.72},{"s":"4","x":73,"y":-0.708},{"s":"4","x":85,"y":-0.69},{"s":"4","x":91,"y":-0.683},{"s":"4","x":110,"y":-0.683},{"s":"4","x":128,"y":-0.683},{"s":"4","x":150,"y":-0.681},{"s":"4","x":165,"y":-0.677},{"s":"4","x":180,"y":-0.662},{"s":"4","x":192,"y":-0.64},{"s":"4","x":200,"y":-0.605},{"s":"4","x":205,"y":-0.565},{"s":"4","x":208,"y":-0.53},{"s":"4","x":210,"y":-0.492},{"s":"4","x":213,"y":-0.56},{"s":"4","x":216,"y":-0.671},{"s":"4","x":219,"y":-0.74},{"s":"4","x":223,"y":-0.795},{"s":"4","x":230,"y":-0.86},{"s":"4","x":238,"y":-0.907},{"s":"4","x":246,"y":-0.94},{"s":"4","x":256,"y":-0.957},{"s":"4","x":275,"y":-0.963},{"s":"4","x":293,"y":-0.969},{"s":"4","x":310,"y":-0.982},{"s":"4","x":329,"y":-1.0},{"s":"4","x":348,"y":-1.028},{"s":"4","x":366,"y":-1.056},{"s":"4","x":385,"y":-1.082},{"s":"4","x":402,"y":-1.106},{"s":"4","x":413,"y":-1.13},{"s":"4","x":421,"y":-1.155},{"s":"4","x":424,"y":-1.18},{"s":"4","x":426,"y":-1.2},
{"s":"8","x":0,"y":-1.006},{"s":"8","x":3,"y":-0.95},{"s":"8","x":5,"y":-0.907},{"s":"8","x":10,"y":-0.82},{"s":"8","x":15,"y":-0.745},{"s":"8","x":20,"y":-0.705},{"s":"8","x":27,"y":-0.683},{"s":"8","x":36,"y":-0.672},{"s":"8","x":46,"y":-0.665},{"s":"8","x":60,"y":-0.664},{"s":"8","x":73,"y":-0.662},{"s":"8","x":82,"y":-0.65},{"s":"8","x":88,"y":-0.634},{"s":"8","x":92,"y":-0.58},{"s":"8","x":95,"y":-0.491},{"s":"8","x":97,"y":-0.56},{"s":"8","x":99,"y":-0.671},{"s":"8","x":101,"y":-0.857},{"s":"8","x":104,"y":-0.93},{"s":"8","x":110,"y":-0.975},{"s":"8","x":120,"y":-0.99},{"s":"8","x":128,"y":-1.0},{"s":"8","x":140,"y":-1.03},{"s":"8","x":155,"y":-1.062},{"s":"8","x":165,"y":-1.1},{"s":"8","x":174,"y":-1.137},{"s":"8","x":181,"y":-1.17},{"s":"8","x":187,"y":-1.2},
{"s":"16","x":0,"y":-1.0},{"s":"16","x":2,"y":-0.8},{"s":"16","x":4,"y":-0.65},{"s":"16","x":8,"y":-0.625},{"s":"16","x":15,"y":-0.61},{"s":"16","x":22,"y":-0.6},{"s":"16","x":30,"y":-0.58},{"s":"16","x":35,"y":-0.55},{"s":"16","x":38,"y":-0.51},{"s":"16","x":40,"y":-0.476},{"s":"16","x":42,"y":-0.6},{"s":"16","x":43,"y":-0.8},{"s":"16","x":44,"y":-0.95},{"s":"16","x":46,"y":-1.031},{"s":"16","x":55,"y":-1.05},{"s":"16","x":64,"y":-1.075},{"s":"16","x":69,"y":-1.11},{"s":"16","x":73,"y":-1.137},{"s":"16","x":77,"y":-1.17},{"s":"16","x":80,"y":-1.2}
],
"DI":[{"x":1,"y":802},{"x":2,"y":797},{"x":4,"y":755},{"x":8,"y":672},{"x":16,"y":565}]
},
"resolve":{"scale":{"x":"independent","y":"independent","color":"independent"},"legend":{"color":"independent"}},
"columns":1,
"align":"none",
"spacing":-15,
"concat":[
{"hconcat":[
{
 "title":{"text":"a","dx":-28,"offset":-39},
 "width":820,"height":597,
 "view":{"stroke":null},
 "layer":[
  {"encoding":{
    "x":{"field":"x","type":"quantitative","scale":{"domain":[-0.1,0.7],"range":[10,820],"nice":false,"zero":false},
     "axis":{"orient":"bottom","values":[-0.1,-0.05,0,0.05,0.1,0.15,0.2,0.25,0.3,0.35,0.4,0.45,0.5,0.55,0.6,0.65,0.7],"labelExpr":"abs(datum.value*10-round(datum.value*10))<0.01 ? replace(format(datum.value,'.1f'),'−','-') : ''","tickSize":{"condition":{"test":"abs(datum.value*10-round(datum.value*10))<0.01","value":12},"value":7},"tickWidth":3,"domainWidth":3,"labelFont":"Liberation Serif","labelFontWeight":"bold","labelFontSize":29,"labelPadding":4,"title":"Potential vs (Hg/HgO) / v","titleFont":"Liberation Serif","titleFontWeight":"bold","titleFontSize":30,"titlePadding":12}},
    "y":{"field":"y","type":"quantitative","scale":{"domain":[-80,70],"nice":false,"zero":false},
     "axis":{"orient":"left","offset":-10,"values":[-80,-70,-60,-50,-40,-30,-20,-10,0,10,20,30,40,50,60,70],"labelExpr":"datum.value % 20 == 0 ? replace(format(datum.value,'d'),'−','-') : ''","tickSize":{"condition":{"test":"datum.value % 20 == 0","value":12},"value":7},"tickWidth":3,"domainWidth":3,"labelFont":"Liberation Serif","labelFontWeight":"bold","labelFontSize":29,"labelPadding":7,"title":"Current Density / A g⁻¹","titleFont":"Liberation Serif","titleFontWeight":"bold","titleFontSize":30,"titlePadding":19}}
   },
   "layer":[
    {"data":{"name":"A"},"mark":{"type":"line","strokeWidth":3.5,"clip":true},
     "encoding":{
      "color":{"field":"s","type":"nominal","scale":{"domain":["1","2","4","8","16","32"],"range":["#ff0000","#000000","#0000ff","#ff00ff","#000080","#8000ff"]},
       "legend":{"title":null,"legendX":68.5,"legendY":76,"columns":2,"symbolSize":342,"symbolStrokeWidth":4.5,"labelFontSize":30,"labelOffset":64,"rowPadding":13,"columnPadding":6,"labelExpr":"datum.label + ' mV s⁻¹'"}},
      "order":{"value":null}
     }},
    {"data":{"values":[{"x":-0.1,"x2":0.7,"y":-80,"y2":70}]},"mark":{"type":"rect","fill":"white","fillOpacity":0,"stroke":"black","strokeWidth":3},"encoding":{"x2":{"field":"x2"},"y2":{"field":"y2"}}}
   ]},
  {"encoding":{
    "x":{"field":"x","type":"quantitative","scale":{"domain":[-0.1,0.7],"range":[536,809],"nice":false,"zero":false},
     "axis":{"orient":"bottom","offset":-31,"zindex":1,"values":[-0.1,0,0.1,0.2,0.3,0.4,0.5,0.6,0.7],"labelExpr":"abs(datum.value*5-round(datum.value*5))<0.01 ? replace(format(datum.value,'.1f'),'−','-') : ''","tickSize":{"condition":{"test":"abs(datum.value*5-round(datum.value*5))<0.01","value":5},"value":3},"tickWidth":1.5,"domainWidth":1.5,"labelFont":"Liberation Sans","labelFontWeight":"bold","labelFontSize":17,"labelPadding":2,"title":null}},
    "y":{"field":"y","type":"quantitative","scale":{"domain":[-12.6,15],"range":[566,351],"nice":false,"zero":false},
     "axis":{"orient":"left","offset":-536,"zindex":1,"values":[-12,-9,-6,-3,0,3,6,9,12,15],"labelExpr":"datum.value % 6 == 0 ? replace(format(datum.value,'d'),'−','-') : ''","tickSize":{"condition":{"test":"datum.value % 6 == 0","value":5},"value":3},"tickWidth":1.5,"domainWidth":1.5,"labelFont":"Liberation Sans","labelFontWeight":"bold","labelFontSize":17,"labelPadding":2,"title":null}}
   },
   "layer":[
    {"data":{"values":[{"x":-0.1,"x2":0.7,"y":-12.6,"y2":15}]},"mark":{"type":"rect","fill":"white","stroke":"black","strokeWidth":1.5},"encoding":{"x2":{"field":"x2"},"y2":{"field":"y2"}}},
    {"data":{"name":"A"},"transform":[{"filter":"datum.s == '1'"}],"mark":{"type":"line","color":"#ff0000","strokeWidth":1.6},"encoding":{"order":{"value":null}}},
    {"data":{"values":[{"x":-0.087,"x2":0.032,"y":2.8}]},"mark":{"type":"rule","color":"#ff0000","strokeWidth":1.6},"encoding":{"x2":{"field":"x2"}}},
    {"data":{"name":"AT"},"mark":{"type":"text","align":"left","baseline":"middle","font":"Liberation Sans","fontSize":17,"color":"black"},"encoding":{"text":{"field":"t"}}},
    {"data":{"name":"ARA"},"transform":[{"filter":"datum.id != 'p2'"}],"mark":{"type":"rule","color":"#1a1aff","strokeWidth":2},"encoding":{"x2":{"field":"x2"},"y2":{"field":"y2"}}},
    {"data":{"name":"ARA"},"transform":[{"filter":"datum.id == 'p2'"}],"mark":{"type":"rule","color":"#22dd22","strokeWidth":2},"encoding":{"x2":{"field":"x2"},"y2":{"field":"y2"}}},
    {"data":{"name":"ARA"},"transform":[{"filter":"datum.id == 'p1'"}],"mark":{"type":"point","shape":"M0,0L-0.6,1.3L0.6,1.3Z","filled":true,"color":"#1a1aff","opacity":1,"size":180,"angle":116.5}},
    {"data":{"name":"ARA"},"transform":[{"filter":"datum.id == 'p2'"}],"mark":{"type":"point","shape":"M0,0L-0.6,1.3L0.6,1.3Z","filled":true,"color":"#22dd22","opacity":1,"size":180,"angle":169.5}},
    {"data":{"name":"ARA"},"transform":[{"filter":"datum.id == 'p3'"}],"mark":{"type":"point","shape":"M0,0L-0.6,1.3L0.6,1.3Z","filled":true,"color":"#1a1aff","opacity":1,"size":180,"angle":276}}
   ]}
 ],
 "resolve":{"scale":{"x":"independent","y":"independent"}}
},
{
 "title":{"text":"b","dx":9,"offset":-39},
 "width":820,"height":602,
 "layer":[
  {"data":{"name":"B"},"mark":{"type":"line","strokeWidth":4,"clip":true},
   "encoding":{
    "x":{"field":"x","type":"quantitative","scale":{"domain":[0,2500],"nice":false,"zero":false},
     "axis":{"orient":"bottom","values":[0,250,500,750,1000,1250,1500,1750,2000,2250,2500],"labelExpr":"datum.value % 500 == 0 ? format(datum.value,'d') : ''","tickSize":{"condition":{"test":"datum.value % 500 == 0","value":12},"value":7},"tickWidth":3,"domainWidth":3,"labelFont":"Liberation Serif","labelFontWeight":"bold","labelFontSize":30,"labelPadding":4,"title":"Time / s","titleFont":"Liberation Serif","titleFontWeight":"bold","titleFontSize":32,"titlePadding":8}},
    "y":{"field":"y","type":"quantitative","scale":{"domain":[0,0.8],"nice":false,"zero":false},
     "axis":{"orient":"left","values":[0,0.05,0.1,0.15,0.2,0.25,0.3,0.35,0.4,0.45,0.5,0.55,0.6,0.65,0.7,0.75,0.8],"labelExpr":"abs(datum.value*10-round(datum.value*10))<0.01 ? format(datum.value,'.1f') : ''","tickSize":{"condition":{"test":"abs(datum.value*10-round(datum.value*10))<0.01","value":12},"value":7},"tickWidth":3,"domainWidth":3,"labelFont":"Liberation Serif","labelFontWeight":"bold","labelFontSize":30,"labelPadding":8,"title":"Potential / V","titleFont":"Liberation Serif","titleFontWeight":"bold","titleFontSize":38,"titlePadding":22}},
    "color":{"field":"s","type":"nominal","scale":{"domain":["1","2","4","8"],"range":["#000000","#ff0000","#0000ff","#ff00ff"]},
     "legend":{"title":null,"legendX":407.6,"legendY":374.5,"symbolSize":333,"symbolStrokeWidth":4.5,"labelFontSize":30,"labelOffset":66.2,"rowPadding":14.5,"labelExpr":"datum.label + 'A g⁻¹'"}},
    "order":{"value":null}
   }},
  {"encoding":{
    "x":{"field":"x","type":"quantitative","scale":{"domain":[0,10],"range":[473,788],"nice":false,"zero":false},
     "axis":{"orient":"bottom","offset":-336,"zindex":1,"values":[0,1,2,3,4,5,6,7,8,9,10],"labelExpr":"datum.value % 2 == 0 ? format(datum.value,'d') : ''","tickSize":{"condition":{"test":"datum.value % 2 == 0","value":6},"value":3},"tickWidth":1.5,"domainWidth":1.5,"labelFont":"Liberation Serif","labelFontWeight":"bold","labelFontSize":22,"labelPadding":2,"title":"Current Density / A g⁻¹","titleFont":"Liberation Serif","titleFontWeight":"bold","titleFontSize":22,"titlePadding":2}},
    "y":{"field":"y","type":"quantitative","scale":{"domain":[0,2400],"range":[266,35],"nice":false,"zero":false},
     "axis":{"orient":"left","offset":-473,"zindex":1,"values":[0,200,400,600,800,1000,1200,1400,1600,1800,2000,2200,2400],"labelExpr":"datum.value % 400 == 0 ? format(datum.value,'d') : ''","tickSize":{"condition":{"test":"datum.value % 400 == 0","value":6},"value":3},"tickWidth":1.5,"domainWidth":1.5,"labelFont":"Liberation Serif","labelFontWeight":"bold","labelFontSize":22,"labelPadding":2,"title":"Specific Capacitance / F g⁻¹","titleFont":"Liberation Serif","titleFontWeight":"bold","titleFontSize":22,"titlePadding":3}}
   },
   "layer":[
    {"data":{"values":[{"x":0,"x2":10,"y":0,"y2":2400}]},"mark":{"type":"rect","fill":"white","stroke":"black","strokeWidth":1.5},"encoding":{"x2":{"field":"x2"},"y2":{"field":"y2"}}},
    {"data":{"name":"BI"},"mark":{"type":"line","color":"black","strokeWidth":2.5}},
    {"data":{"name":"BI"},"mark":{"type":"point","filled":true,"color":"#2424ff","opacity":1,"size":200}},
    {"data":{"name":"BI"},"mark":{"type":"point","filled":true,"color":"white","opacity":0.85,"size":22,"xOffset":-2.5,"yOffset":-2.5}},
    {"data":{"values":[{"x":0.825,"x2":2.857,"y":770}]},"mark":{"type":"rule","color":"black","strokeWidth":2.5},"encoding":{"x2":{"field":"x2"}}},
    {"data":{"values":[{"x":1.85,"y":770}]},"mark":{"type":"point","filled":true,"color":"#2424ff","opacity":1,"size":200}},
    {"data":{"values":[{"x":1.85,"y":770}]},"mark":{"type":"point","filled":true,"color":"white","opacity":0.85,"size":22,"xOffset":-2.5,"yOffset":-2.5}},
    {"data":{"values":[{"x":3.07,"y":770,"t":"rate capacitance"}]},"mark":{"type":"text","align":"left","baseline":"middle","font":"Liberation Serif","fontSize":27.5,"color":"black"},"encoding":{"text":{"field":"t"}}}
   ]}
 ],
 "resolve":{"scale":{"x":"independent","y":"independent"}}
}
],"spacing":13,"resolve":{"scale":{"x":"independent","y":"independent","color":"independent"},"legend":{"color":"independent"}}},
{"hconcat":[
{
 "title":{"text":"c","dx":-10,"offset":-29},
 "width":815,"height":610,
 "layer":[
  {"data":{"name":"C"},"mark":{"type":"line","strokeWidth":3.5,"clip":true},
   "encoding":{
    "x":{"field":"x","type":"quantitative","scale":{"domain":[-1.3,-0.3],"nice":false,"zero":false},
     "axis":{"orient":"bottom","values":[-1.3,-1.2,-1.1,-1.0,-0.9,-0.8,-0.7,-0.6,-0.5,-0.4,-0.3],"labelExpr":"abs(datum.value*5-round(datum.value*5))<0.01 ? replace(format(datum.value,'.1f'),'−','-') : ''","tickSize":{"condition":{"test":"abs(datum.value*5-round(datum.value*5))<0.01","value":12},"value":7},"tickWidth":3,"domainWidth":3,"labelFont":"Liberation Serif","labelFontWeight":"bold","labelFontSize":34,"labelPadding":4,"title":"Potential vs. Hg/HgO (V)","titleFont":"Liberation Serif","titleFontWeight":"bold","titleFontSize":36,"titlePadding":4}},
    "y":{"field":"y","type":"quantitative","scale":{"domain":[-60,40],"nice":false,"zero":false},
     "axis":{"orient":"left","values":[-60,-55,-50,-45,-40,-35,-30,-25,-20,-15,-10,-5,0,5,10,15,20,25,30,35,40],"labelExpr":"datum.value % 10 == 0 ? replace(format(datum.value,'d'),'−','-') : ''","tickSize":{"condition":{"test":"datum.value % 10 == 0","value":12},"value":7},"tickWidth":3,"domainWidth":3,"labelFont":"Liberation Serif","labelFontWeight":"bold","labelFontSize":34,"labelPadding":4,"title":"Current Density / (A g⁻¹)","titleFont":"Liberation Serif","titleFontWeight":"bold","titleFontSize":36,"titlePadding":17}},
    "color":{"field":"s","type":"nominal","scale":{"domain":["5","10","20","40","60"],"range":["#000000","#ff0000","#0000ff","#ff00ff","#008000"]},
     "legend":{"title":null,"legendX":11.25,"legendY":12,"symbolSize":324,"symbolStrokeWidth":4.5,"labelFontSize":38,"labelOffset":62.2,"rowPadding":10.7,"labelExpr":"datum.label + ' mv/s'"}},
    "order":{"value":null}
   }},
  {"encoding":{
    "x":{"field":"x","type":"quantitative","scale":{"domain":[-1.2,-0.4],"range":[415,781],"nice":false,"zero":false},
     "axis":{"orient":"bottom","offset":-39,"zindex":1,"values":[-1.2,-1.1,-1.0,-0.9,-0.8,-0.7,-0.6,-0.5,-0.4],"labelExpr":"abs(datum.value*5-round(datum.value*5))<0.01 ? replace(format(datum.value,'.1f'),'−','-') : ''","tickSize":{"condition":{"test":"abs(datum.value*5-round(datum.value*5))<0.01","value":5},"value":3},"tickWidth":1.5,"domainWidth":1.5,"labelFont":"Liberation Sans","labelFontWeight":"bold","labelFontSize":18,"labelPadding":2,"title":null}},
    "y":{"field":"y","type":"quantitative","scale":{"domain":[-5,6],"range":[571,322],"nice":false,"zero":false},
     "axis":{"orient":"left","offset":-415,"zindex":1,"values":[-5,-4,-3,-2,-1,0,1,2,3,4,5,6],"labelExpr":"datum.value % 2 == 0 ? replace(format(datum.value,'d'),'−','-') : ''","tickSize":{"condition":{"test":"datum.value % 2 == 0","value":5},"value":3},"tickWidth":1.5,"domainWidth":1.5,"labelFont":"Liberation Sans","labelFontWeight":"bold","labelFontSize":18,"labelPadding":2,"title":null}}
   },
   "layer":[
    {"data":{"values":[{"x":-1.2,"x2":-0.4,"y":-5,"y2":6}]},"mark":{"type":"rect","fill":"white","stroke":"black","strokeWidth":1.5},"encoding":{"x2":{"field":"x2"},"y2":{"field":"y2"}}},
    {"data":{"name":"CI"},"mark":{"type":"line","color":"#ff0000","strokeWidth":2.5},"encoding":{"order":{"value":null}}},
    {"data":{"values":[{"x":-1.155,"x2":-1.02,"y":1.75}]},"mark":{"type":"rule","color":"#ff0000","strokeWidth":2.5},"encoding":{"x2":{"field":"x2"}}},
    {"data":{"values":[{"x":-1.002,"y":1.75,"t":"1 mV s⁻¹"}]},"mark":{"type":"text","align":"left","baseline":"middle","font":"Liberation Sans","fontSize":26,"color":"black"},"encoding":{"text":{"field":"t"}}},
    {"data":{"name":"CT"},"mark":{"type":"text","align":"left","baseline":"middle","font":"Liberation Serif","fontSize":30,"color":"black"},"encoding":{"text":{"field":"t"}}},
    {"data":{"name":"ARC"},"transform":[{"filter":"datum.id != 'q2'"}],"mark":{"type":"rule","color":"#1a1aff","strokeWidth":2.7},"encoding":{"x2":{"field":"x2"},"y2":{"field":"y2"}}},
    {"data":{"name":"ARC"},"transform":[{"filter":"datum.id == 'q2'"}],"mark":{"type":"rule","color":"#22ee22","strokeWidth":2.7},"encoding":{"x2":{"field":"x2"},"y2":{"field":"y2"}}},
    {"data":{"name":"ARC"},"transform":[{"filter":"datum.id == 'q1'"}],"mark":{"type":"point","shape":"M0,0L-0.6,1.3L0.6,1.3Z","filled":true,"color":"#1a1aff","opacity":1,"size":300,"angle":73.5}},
    {"data":{"name":"ARC"},"transform":[{"filter":"datum.id == 'q2'"}],"mark":{"type":"point","shape":"M0,0L-0.6,1.3L0.6,1.3Z","filled":true,"color":"#22ee22","opacity":1,"size":300,"angle":281.8}},
    {"data":{"name":"ARC"},"transform":[{"filter":"datum.id == 'q3'"}],"mark":{"type":"point","shape":"M0,0L-0.6,1.3L0.6,1.3Z","filled":true,"color":"#1a1aff","opacity":1,"size":300,"angle":280.5}}
   ]}
 ],
 "resolve":{"scale":{"x":"independent","y":"independent"}}
},
{
 "title":{"text":"d","dx":-5,"offset":-20},
 "width":812,"height":609,
 "view":{"stroke":null},
 "layer":[
  {"encoding":{
    "x":{"field":"x","type":"quantitative","scale":{"domain":[0,2400],"nice":false,"zero":false},
     "axis":{"orient":"bottom","values":[0,150,300,450,600,750,900,1050,1200,1350,1500,1650,1800,1950,2100,2250,2400],"labelExpr":"datum.value % 300 == 0 ? format(datum.value,'d') : ''","tickSize":{"condition":{"test":"datum.value % 300 == 0","value":12},"value":7},"tickWidth":3,"domainWidth":3,"labelFont":"Liberation Serif","labelFontWeight":"bold","labelFontSize":29,"labelPadding":4,"title":"Time (s)","titleFont":"Liberation Serif","titleFontWeight":"bold","titleFontSize":32,"titlePadding":14}},
    "y":{"field":"y","type":"quantitative","scale":{"domain":[-1.2,-0.4],"range":[609,9],"nice":false,"zero":false},
     "axis":{"orient":"left","values":[-1.2,-1.1,-1.0,-0.9,-0.8,-0.7,-0.6,-0.5,-0.4],"labelExpr":"abs(datum.value*5-round(datum.value*5))<0.01 ? replace(format(datum.value,'.1f'),'−','-') : ''","tickSize":{"condition":{"test":"abs(datum.value*5-round(datum.value*5))<0.01","value":12},"value":7},"tickWidth":3,"domainWidth":3,"labelFont":"Liberation Serif","labelFontWeight":"bold","labelFontSize":30,"labelPadding":8,"title":"Potential (V)","titleFont":"Liberation Serif","titleFontWeight":"bold","titleFontSize":32,"titlePadding":8}}
   },
   "layer":[
    {"data":{"name":"D"},"mark":{"type":"line","strokeWidth":4,"clip":true},
     "encoding":{
      "color":{"field":"s","type":"nominal","scale":{"domain":["1","2","4","8","16"],"range":["#000000","#ff0000","#0000ff","#ff00ff","#008000"]},
       "legend":{"title":null,"legendX":617.2,"legendY":396.8,"symbolSize":281,"symbolStrokeWidth":4.5,"labelFontSize":27,"labelOffset":60.9,"rowPadding":13,"labelExpr":"datum.label + ' A g⁻¹'"}},
      "order":{"value":null}
     }},
    {"data":{"values":[{"x":0,"x2":2400,"y":-1.2,"y2":-0.4}]},"mark":{"type":"rect","fill":"white","fillOpacity":0,"stroke":"black","strokeWidth":3},"encoding":{"x2":{"field":"x2"},"y2":{"field":"y2"}}}
   ]},
  {"encoding":{
    "x":{"field":"x","type":"quantitative","scale":{"domain":[0,18],"range":[424,780],"nice":false,"zero":false},
     "axis":{"orient":"bottom","offset":-266,"zindex":1,"values":[0,2,4,6,8,10,12,14,16,18],"labelExpr":"datum.value % 4 == 0 ? format(datum.value,'d') : ''","tickSize":{"condition":{"test":"datum.value % 4 == 0","value":6},"value":3},"tickWidth":1.5,"domainWidth":1.5,"labelFont":"Liberation Serif","labelFontWeight":"bold","labelFontSize":22,"labelPadding":2,"title":"Current Density / A g⁻¹","titleFont":"Liberation Serif","titleFontWeight":"bold","titleFontSize":23,"titlePadding":2}},
    "y":{"field":"y","type":"quantitative","scale":{"domain":[0,1000],"range":[343,25],"nice":false,"zero":false},
     "axis":{"orient":"left","offset":-424,"zindex":1,"values":[0,100,200,300,400,500,600,700,800,900,1000],"labelExpr":"datum.value % 200 == 0 ? format(datum.value,'d') : ''","tickSize":{"condition":{"test":"datum.value % 200 == 0","value":6},"value":3},"tickWidth":1.5,"domainWidth":1.5,"labelFont":"Liberation Serif","labelFontWeight":"bold","labelFontSize":22,"labelPadding":2,"title":"Specific Capacitance / F g⁻¹","titleFont":"Liberation Serif","titleFontWeight":"bold","titleFontSize":23,"titlePadding":8}}
   },
   "layer":[
    {"data":{"values":[{"x":0,"x2":18,"y":0,"y2":1000}]},"mark":{"type":"rect","fill":"white","stroke":"black","strokeWidth":1.5},"encoding":{"x2":{"field":"x2"},"y2":{"field":"y2"}}},
    {"data":{"name":"DI"},"mark":{"type":"line","color":"black","strokeWidth":2.5}},
    {"data":{"name":"DI"},"mark":{"type":"point","filled":true,"color":"#1c1c88","opacity":1,"size":210}},
    {"data":{"name":"DI"},"mark":{"type":"point","filled":true,"color":"white","opacity":0.8,"size":22,"xOffset":-2.5,"yOffset":-2.5}},
    {"data":{"values":[{"x":3.2,"x2":6.32,"y":296}]},"mark":{"type":"rule","color":"black","strokeWidth":2.5},"encoding":{"x2":{"field":"x2"}}},
    {"data":{"values":[{"x":4.72,"y":296}]},"mark":{"type":"point","filled":true,"color":"#1c1c88","opacity":1,"size":210}},
    {"data":{"values":[{"x":4.72,"y":296}]},"mark":{"type":"point","filled":true,"color":"white","opacity":0.8,"size":22,"xOffset":-2.5,"yOffset":-2.5}},
    {"data":{"values":[{"x":6.74,"y":296,"t":"rate capacitance"}]},"mark":{"type":"text","align":"left","baseline":"middle","font":"Liberation Serif","fontWeight":"bold","fontSize":27,"color":"black"},"encoding":{"text":{"field":"t"}}}
   ]}
 ],
 "resolve":{"scale":{"x":"independent","y":"independent"}}
}
],"spacing":41,"resolve":{"scale":{"x":"independent","y":"independent","color":"independent"},"legend":{"color":"independent"}}}
]
}
